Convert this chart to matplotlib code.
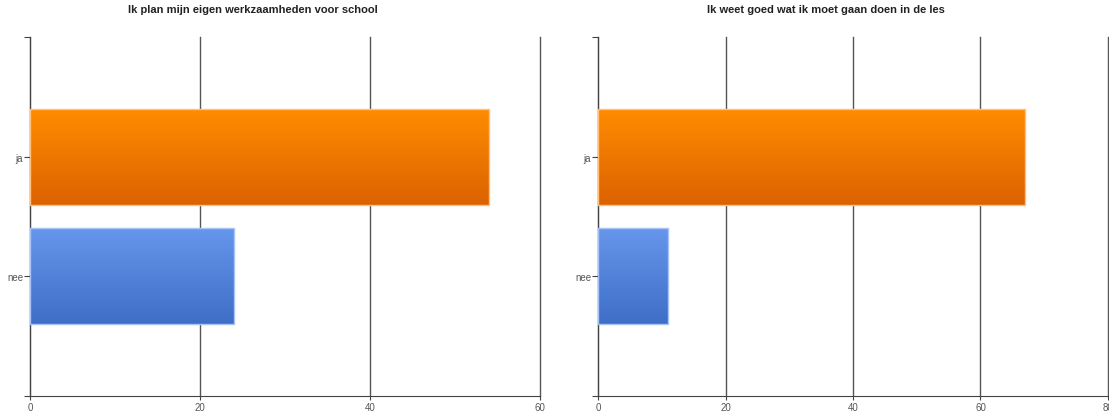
import numpy as np
import matplotlib.pyplot as plt
from matplotlib.colors import LinearSegmentedColormap

plt.rcParams['font.family'] = ['Liberation Sans', 'DejaVu Sans']

categories = ["ja", "nee"]
titles = ["Ik plan mijn eigen werkzaamheden voor school",
          "Ik weet goed wat ik moet gaan doen in de les"]
values_left = [54, 24]
values_right = [67, 11]
xmax = [60, 80]
xticks = [[0, 20, 40, 60], [0, 20, 40, 60, 80]]

orange = LinearSegmentedColormap.from_list("orange", ["#ff8c00", "#dc6200"])
blue = LinearSegmentedColormap.from_list("blue", ["#6697ec", "#3e6ec6"])
bar_maps = [orange, blue]
edge_colors = ["#ffc080", "#a8c4f4"]

fig = plt.figure(figsize=(11.09, 4.14), dpi=100)
W, H = 1109, 414
axes_px = [(30, 510), (598, 510)]
title_cx = [253, 826]


def gradient_bars(ax, vals):
    ys = np.arange(len(vals))
    bars = ax.barh(ys, vals, height=0.8, color="none", zorder=3)
    grad = np.linspace(0, 1, 256).reshape(-1, 1)
    for bar, cmap, ec in zip(bars, bar_maps, edge_colors):
        x0, y0 = bar.get_x(), bar.get_y()
        w, h = bar.get_width(), bar.get_height()
        im = ax.imshow(grad, cmap=cmap, aspect="auto", origin="upper",
                       extent=(x0, x0 + w, y0 + h, y0), zorder=3)
        im.set_clip_path(bar)
        bar.set_edgecolor(ec)
        bar.set_linewidth(1.0)
        bar.set_zorder(4)


for i, vals in enumerate([values_left, values_right]):
    left, width = axes_px[i]
    ax = fig.add_axes([left / W, 1 - 397 / H, width / W, 359 / H])
    gradient_bars(ax, vals)
    ax.set_xlim(0, xmax[i])
    ax.set_ylim(2, -1)
    ax.set_xticks(xticks[i])
    ax.set_xticklabels([str(t) for t in xticks[i]])
    ax.set_yticks([-1, 0, 1, 2])
    ax.set_yticklabels(["", categories[0], categories[1], ""])
    for t in xticks[i]:
        ax.axvline(t, color="#555555", lw=1.0, zorder=1, clip_on=False)
    for s in ["top", "right"]:
        ax.spines[s].set_visible(False)
    ax.spines["left"].set_color("#444444")
    ax.spines["bottom"].set_color("#444444")
    ax.tick_params(axis="x", length=3, width=0.8, color="#444444",
                   labelsize=7, labelcolor="#555555", pad=1.5)
    ax.tick_params(axis="y", length=4, width=0.8, color="#444444",
                   labelsize=7, labelcolor="#555555", pad=1)
    ax.set_facecolor("white")
    fig.text(title_cx[i] / W, 1 - 10 / H, titles[i], ha="center", va="center",
             fontsize=8, fontweight="bold", color="#222222")

fig.savefig("out.png", dpi=100, facecolor="white")
